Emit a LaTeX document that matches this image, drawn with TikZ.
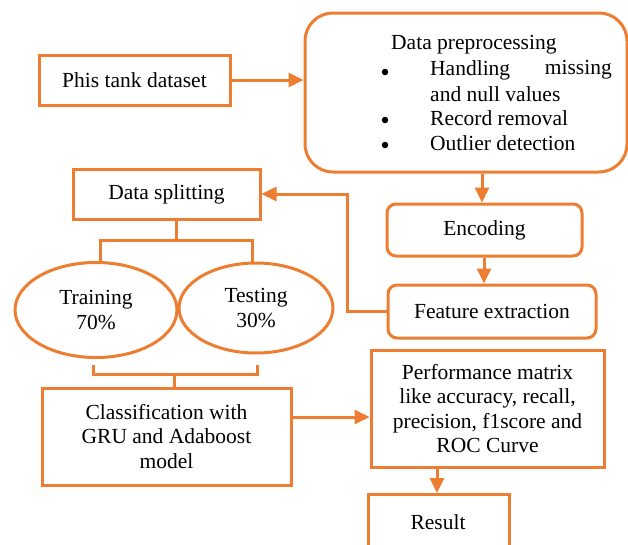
\documentclass[tikz,border=0pt]{standalone}
\usepackage{fontspec}
\setmainfont{Liberation Serif}
\usetikzlibrary{arrows.meta,shapes.geometric}
\definecolor{org}{RGB}{237,125,49}
\begin{document}
\begin{tikzpicture}[x=1pt,y=-1pt,
  txtfont/.style={font=\fontsize{21.5}{24.5}\selectfont},
  box/.style={draw=org,line width=3pt,inner sep=0pt,align=center,txtfont},
  rbox/.style={box,rounded corners=9pt},
  ell/.style={draw=org,line width=3pt,ellipse,inner sep=0pt,align=center,txtfont},
  arr/.style={draw=org,line width=3pt,-{Triangle[length=15pt,width=14pt]}},
  ln/.style={draw=org,line width=3pt},
  txt/.style={inner sep=0pt,txtfont},
  bul/.style={circle,fill=black,inner sep=0pt,minimum size=6.5pt}]
\clip (0,0) rectangle (628,544);
% boxes
\node[box,minimum width=191pt,minimum height=50pt] (phis) at (134.5,80) {Phis tank dataset};
\node[box,rounded corners=28pt,minimum width=322pt,minimum height=159pt] (pre) at (466,92.5) {};
\node[txt,anchor=west] (t0) at (391,45) {Data preprocessing};
\node[bul] (b1) at (385,72) {};
\node[txt,anchor=west] (t1) at (430,70) {Handling};
\node[txt,anchor=east] (t1b) at (612,70) {missing};
\node[txt,anchor=west] (t2) at (430,94) {and null values};
\node[bul] (b2) at (385,120) {};
\node[txt,anchor=west] (t3) at (430,118) {Record removal};
\node[bul] (b3) at (385,145) {};
\node[txt,anchor=west] (t4) at (430,143) {Outlier detection};

\node[rbox,minimum width=195pt,minimum height=52pt] (enc) at (484.5,230) {Encoding};
\node[rbox,minimum width=208pt,minimum height=53pt] (feat) at (492,311.5) {Feature extraction};
\node[box,minimum width=187pt,minimum height=50pt] (split) at (166.5,194) {Data splitting};
\node[ell,minimum width=162pt,minimum height=95pt] (train) at (96,310) {Training\\70\%};
\node[ell,minimum width=154pt,minimum height=90pt] (test) at (256,308) {Testing\\30\%};
\node[box,minimum width=249pt,minimum height=97pt] (cls) at (166.5,436.5) {Classification with\\GRU and Adaboost\\model};
\node[box,minimum width=233pt,minimum height=117pt] (perf) at (487.5,408.5) {Performance matrix\\like accuracy, recall,\\precision, f1score and\\ROC Curve};
\node[box,minimum width=141pt,minimum height=80pt,anchor=north] (res) at (438.5,493) {};
\node[txt] (rest) at (438,522) {Result};

% helper coordinates
\coordinate (x482) at (482,0);
\coordinate (x484) at (484,0);
\coordinate (x437) at (437,0);
\coordinate (y417) at (0,417);
\coordinate (bend) at (347,311.5);
% connectors
\draw[arr] (phis.east) -- (pre.west |- phis.east);
\draw[arr] (pre.south -| x482) -- (enc.north -| x482);
\draw[arr] (enc.south -| x484) -- (feat.north -| x484);
\draw[arr] (feat.west) -- (bend) |- (split.east);
\draw[arr] (cls.east |- y417) -- (perf.west |- y417);
\draw[arr] (perf.south -| x437) -- (res.north -| x437);
% brackets
\coordinate (s1) at (176,240);
\coordinate (s1a) at (100,262);
\coordinate (s1b) at (252,262);
\draw[ln] (split.south -| s1) -- (s1);
\draw[ln] (s1a) |- (s1) -| (s1b);
\coordinate (s2) at (174,374);
\coordinate (s2a) at (93,365);
\coordinate (s2b) at (257,365);
\draw[ln] (s2a) |- (s2) -| (s2b);
\draw[ln] (s2) -- (cls.north -| s2);
\end{tikzpicture}
\end{document}
